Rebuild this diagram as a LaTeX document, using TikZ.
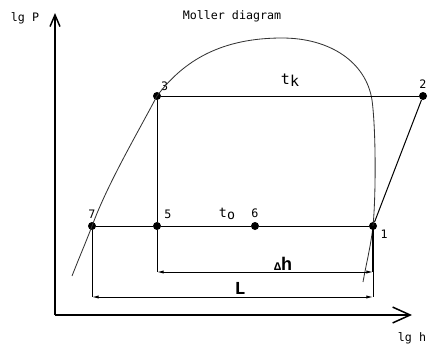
\documentclass[tikz,border=0pt]{standalone}
\usepackage{fontspec}
\usetikzlibrary{arrows.meta}
\newfontfamily\plotfont{DejaVu Sans Mono}
\newfontfamily\dimfont{Liberation Mono}

\begin{document}
\begin{tikzpicture}[
    x=0.6pt, y=-0.6pt,
    pt/.style={circle, fill=black, inner sep=0pt, minimum size=4.8pt},
    lbl/.style={font=\plotfont\fontsize{7}{8}\selectfont, inner sep=1pt},
    axis/.style={line width=0.9pt, -{Straight Barb[length=7pt, width=6pt]}},
    cyc/.style={line width=0.6pt},
    dome/.style={line width=0.5pt, color=black!80},
    dim/.style={line width=0.6pt, {Latex[length=4pt, width=2pt]}-{Latex[length=4pt, width=2pt]}},
    big/.style={font=\dimfont\bfseries\fontsize{11}{12}\selectfont, inner sep=1pt},
]

\useasboundingbox (0,0) rectangle (430,345);

% axes
\coordinate (o) at (55,315);
\coordinate (ytip) at (55,13);
\coordinate (xtip) at (412,315);
\draw[axis] (o) -- (ytip);
\draw[axis, -{Straight Barb[length=10.5pt, width=9.5pt]}] (o) -- (xtip);
\node[lbl] (ylab) at (25,18) {lg P};
\node[lbl] (xlab) at (412,338) {lg h};
\node[lbl] (title) at (232,16) {Moller diagram};

% state points
\node[pt, label={[lbl, label distance=0pt]60:3}] (p3) at (157,96) {};
\node[pt, label={[lbl, label distance=1pt]above:2}] (p2) at (423,96) {};
\node[pt, label={[lbl, label distance=1pt]above:7}] (p7) at (92,226) {};
\node[pt, label={[lbl, label distance=2pt]above right:5}] (p5) at (157,226) {};
\node[pt, label={[lbl, label distance=1pt]above:6}] (p6) at (255,226) {};
\node[pt, label={[lbl, label distance=1pt]-20:1}] (p1) at (373,226) {};

% dimension ends
\coordinate (dh5) at (157,272);
\coordinate (dh1) at (373,272);
\coordinate (L7) at (92,297);
\coordinate (L1) at (373,297);

% saturation curve
\coordinate (liq) at (72,276);
\coordinate (top) at (282,38);
\coordinate (vap) at (372,100);
\coordinate (tail) at (363,282);
\draw[dome] (liq) .. controls (79,258) and (86,242) .. (p7.center)
    .. controls (108,183) and (137,134) .. (p3.center)
    .. controls (184,60) and (222,38) .. (top)
    .. controls (330,38) and (366,62) .. (vap)
    .. controls (376,130) and (376,195) .. (p1.center)
    .. controls (371,245) and (366,265) .. (tail);

% cycle
\draw[cyc] (p3) -- (p2);
\draw[cyc] (p2) -- (p1);
\draw[cyc] (p7) -- (p5);
\draw[cyc] (p5) -- (p6);
\draw[cyc] (p6) -- (p1);
\draw[cyc] (p3) -- (p5);
\draw[cyc] (p5) -- (dh5);
\draw[cyc] (p7) -- (L7);
\draw[line width=1.4pt] (p1.center) -- (dh1);
\draw[cyc] (dh1) -- (L1);

\node[font=\plotfont\fontsize{9}{10}\selectfont] (tk) at (290,80) {t\raisebox{-0.3ex}{k}};
\node[font=\plotfont\fontsize{8}{9}\selectfont] (to) at (227,214) {t\raisebox{-0.3ex}{o}};

% dimensions
\draw[dim] (dh5) -- (dh1);
\draw[dim] (L7) -- (L1);
\node[big] (dhlab) at (283,264) {{\fontsize{7}{7}\selectfont Δ}h};
\node[big] (Llab) at (240,288) {L};

\end{tikzpicture}
\end{document}
